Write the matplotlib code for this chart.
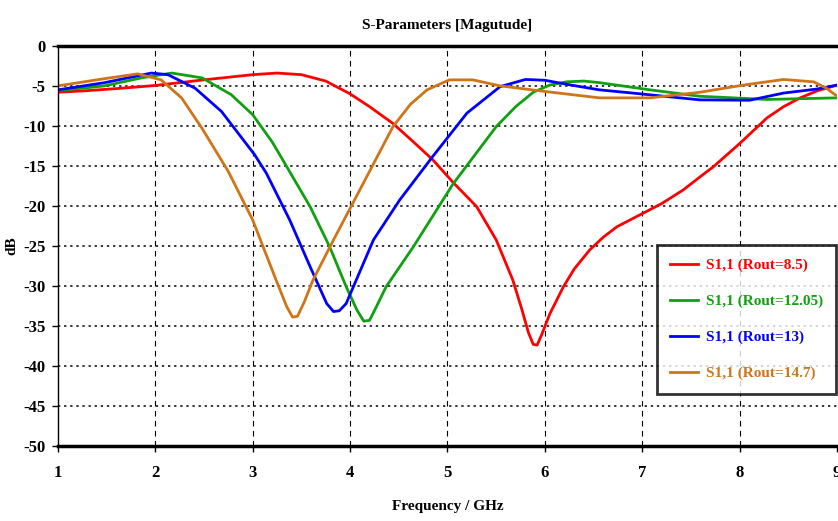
# S-parameter magnitude plot, S1,1 for several Rout values
import numpy as np
import matplotlib.pyplot as plt

plt.rcParams['font.family'] = 'Liberation Serif'
plt.rcParams['font.weight'] = 'bold'
plt.rcParams['axes.unicode_minus'] = False

# data (freq in GHz, magnitude in dB)
f_85 = [1.0, 1.3, 1.65, 2.0, 2.5, 3.0, 3.25, 3.5, 3.75, 4.0, 4.2, 4.44, 4.65, 4.85, 5.06, 5.3,
        5.5, 5.67, 5.76, 5.83, 5.88, 5.92, 5.97, 6.05, 6.19, 6.3, 6.46, 6.6, 6.74, 7.01, 7.2,
        7.42, 7.6, 7.73, 8.0, 8.28, 8.45, 8.62, 8.8, 9.0]
s_85 = [-5.8, -5.6, -5.3, -4.95, -4.25, -3.6, -3.4, -3.6, -4.4, -6.0, -7.6, -9.7, -12.0, -14.25,
        -17.1, -20.1, -24.25, -29.25, -32.8, -35.8, -37.3, -37.4, -36.0, -33.5, -30.1, -27.9,
        -25.5, -23.9, -22.6, -20.9, -19.7, -18.0, -16.3, -15.1, -12.2, -9.0, -7.6, -6.5, -5.6,
        -4.9]

f_1205 = [1.0, 1.48, 1.86, 2.17, 2.48, 2.78, 3.0, 3.2, 3.35, 3.59, 3.79, 3.96, 4.07, 4.14, 4.2,
          4.27, 4.37, 4.65, 5.06, 5.5, 5.7, 5.88, 6.05, 6.22, 6.4, 6.56, 7.08, 7.59, 8.28, 9.0]
s_1205 = [-5.6, -5.0, -4.0, -3.4, -4.0, -6.1, -8.6, -12.0, -15.1, -20.1, -25.1, -30.1, -33.0,
          -34.4, -34.3, -32.6, -30.1, -25.1, -17.2, -10.1, -7.6, -5.8, -4.9, -4.5, -4.4, -4.6,
          -5.5, -6.3, -6.7, -6.5]

f_13 = [1.0, 1.48, 1.96, 2.13, 2.41, 2.68, 3.02, 3.14, 3.38, 3.59, 3.76, 3.83, 3.89, 3.96, 4.24,
        4.51, 4.85, 5.2, 5.54, 5.8, 6.0, 6.22, 6.56, 6.9, 7.59, 8.1, 8.45, 8.79, 9.0]
s_13 = [-5.5, -4.6, -3.4, -3.6, -5.3, -8.2, -13.6, -15.9, -21.75, -27.6, -32.2, -33.2, -33.1,
        -32.2, -24.25, -19.25, -13.8, -8.4, -5.1, -4.2, -4.3, -4.8, -5.5, -5.9, -6.75, -6.8,
        -5.9, -5.4, -4.9]

f_147 = [1.0, 1.48, 1.82, 2.06, 2.27, 2.48, 2.75, 3.0, 3.24, 3.35, 3.41, 3.46, 3.53, 3.62, 3.83,
         4.1, 4.44, 4.62, 4.79, 5.02, 5.26, 5.54, 6.0, 6.56, 7.08, 7.59, 8.04, 8.45, 8.76, 8.89,
         9.0]
s_147 = [-5.0, -4.1, -3.5, -4.25, -6.5, -10.3, -15.7, -21.75, -29.25, -32.6, -33.9, -33.8,
         -32.0, -29.25, -24.25, -18.0, -10.1, -7.3, -5.5, -4.25, -4.25, -5.0, -5.7, -6.5, -6.5,
         -5.8, -4.9, -4.2, -4.5, -5.3, -6.3]

series = [
    (f_85, s_85, 'S1,1 (Rout=8.5)', '#ff0000'),
    (f_1205, s_1205, 'S1,1 (Rout=12.05)', '#10a010'),
    (f_13, s_13, 'S1,1 (Rout=13)', '#0000ff'),
    (f_147, s_147, 'S1,1 (Rout=14.7)', '#d07418'),
]

fig = plt.figure(figsize=(8.38, 5.21), dpi=100)
ax = fig.add_axes([0.069, 0.144, 0.93, 0.768])

for f, s, lab, c in series:
    ax.plot(f, s, color=c, lw=2, label=lab)

ax.set_xlim(1, 9)
ax.set_ylim(-50, 0)
ax.set_xticks(np.arange(1, 10))
ax.set_yticks(np.arange(-50, 1, 5))

# grid: dashed verticals, dotted horizontals
for x in range(2, 9):
    ax.axvline(x, color='black', ls=(0, (5, 4)), lw=0.8, zorder=0)
for y in range(-45, 0, 5):
    ax.axhline(y, color='black', ls=(0, (1.5, 2.5)), lw=1.1, zorder=0)

ax.spines['top'].set_linewidth(2.5)
ax.spines['bottom'].set_linewidth(2.5)
ax.spines['left'].set_linewidth(1)
ax.spines['right'].set_visible(False)
ax.tick_params(direction='out', length=4, width=1, labelsize=12, pad=5)
ax.tick_params(axis='x', pad=10)

ax.set_title('S-Parameters [Magutude]', fontsize=11, fontweight='bold', pad=12)
ax.set_xlabel('Frequency / GHz', fontsize=11, fontweight='bold')
ax.set_ylabel('dB', fontsize=11, fontweight='bold')
ax.xaxis.set_label_coords(0.5, -0.135)
ax.yaxis.set_label_coords(-0.05, 0.5)

leg = ax.legend(loc='lower right', bbox_to_anchor=(0.999, 0.13), fontsize=11,
                frameon=True, fancybox=False, handlelength=1.8, labelspacing=1.45,
                borderpad=0.9, handletextpad=0.5, borderaxespad=0)
leg.get_frame().set_edgecolor('black')
leg.get_frame().set_linewidth(2)
for t, (_, _, _, c) in zip(leg.get_texts(), series):
    t.set_color(c)

fig.savefig('out.png', dpi=100)
